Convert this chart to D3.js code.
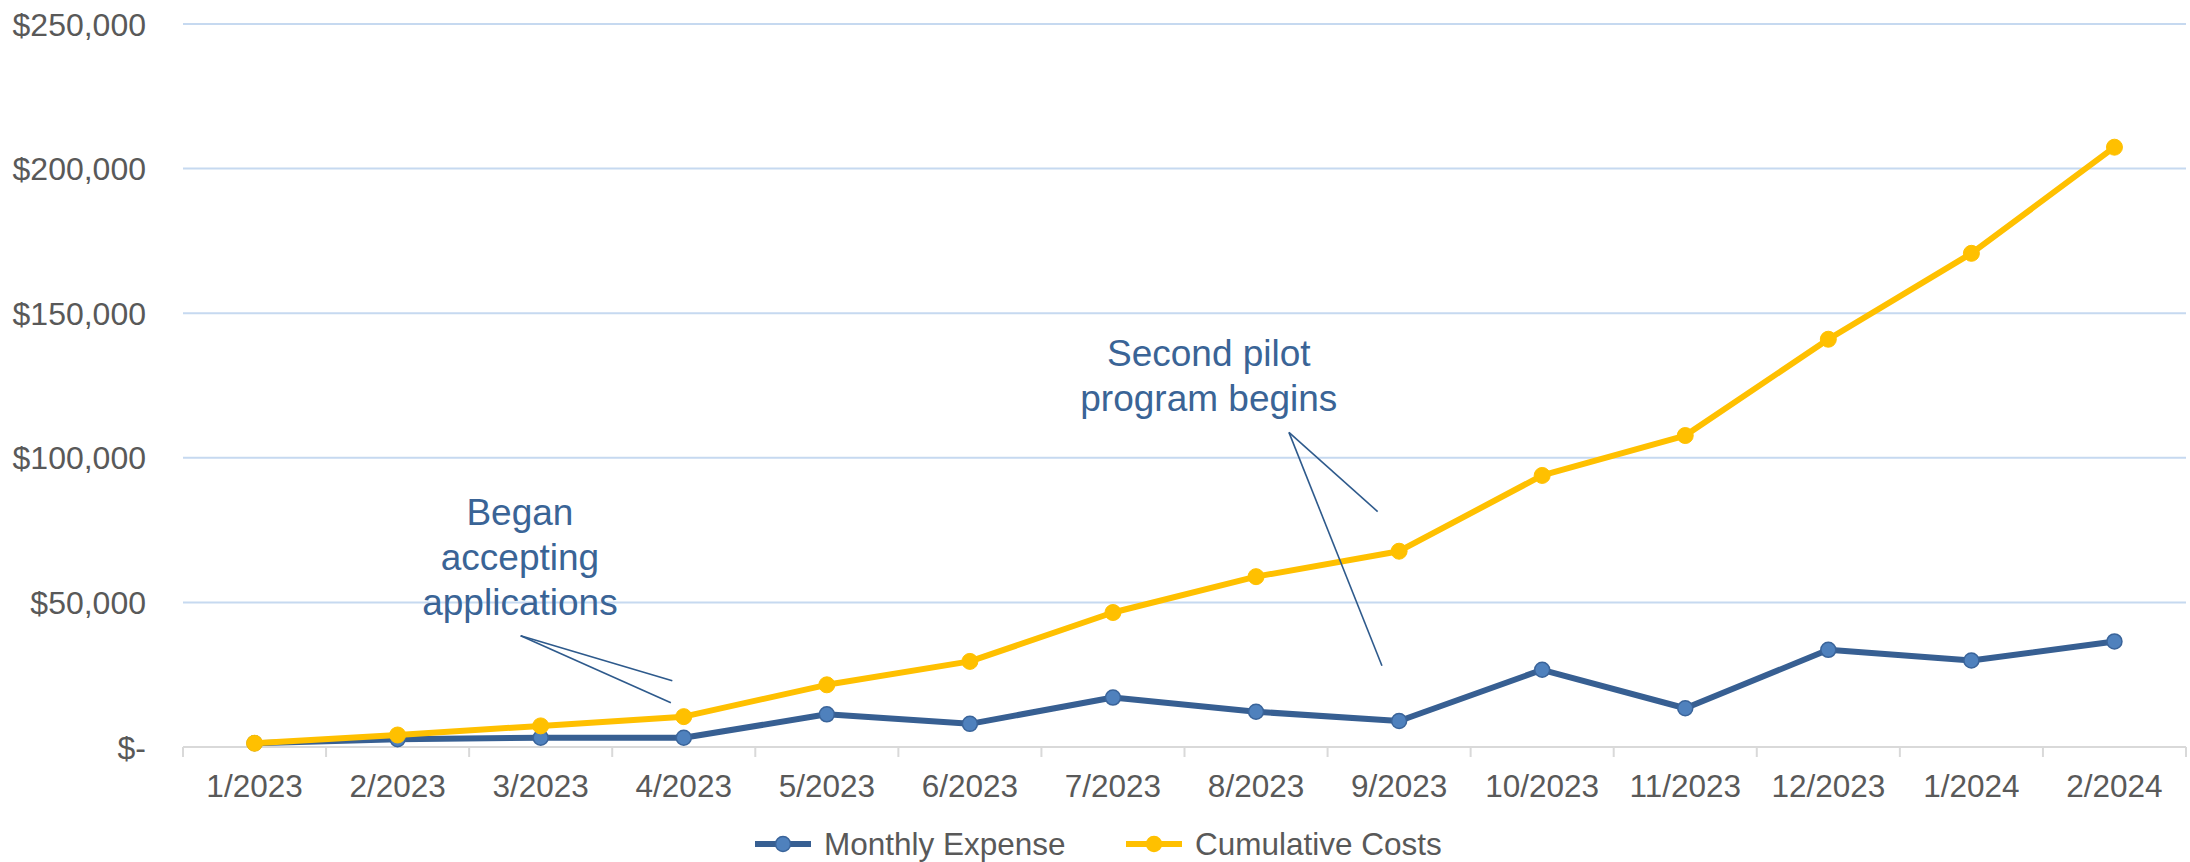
<!DOCTYPE html>
<html>
<head>
<meta charset="utf-8">
<script src="https://cdn.jsdelivr.net/npm/d3@7"></script>
<style>
  html, body { margin: 0; padding: 0; background: #fff; }
  svg { display: block; }
  text { font-family: "Liberation Sans", Arial, sans-serif; }
</style>
</head>
<body>
<svg id="chart" width="2190" height="862"></svg>
<script>
const categories = ["1/2023","2/2023","3/2023","4/2023","5/2023","6/2023","7/2023","8/2023","9/2023","10/2023","11/2023","12/2023","1/2024","2/2024"];
const monthlyExpense = [1300, 2700, 3200, 3200, 11300, 8000, 17100, 12200, 9000, 26700, 13400, 33600, 29900, 36500];
const cumulativeCosts = [1300, 4150, 7300, 10500, 21500, 29600, 46500, 58900, 67700, 93900, 107700, 141000, 170700, 207400];
const yTicks = [0, 50000, 100000, 150000, 200000, 250000];
const seriesNames = ["Monthly Expense", "Cumulative Costs"];
const annotations = [
  { lines: ["Began", "accepting", "applications"], textAt: [1.855, 76600], from: [1.86, 38500], to: [[2.92, 22900], [2.91, 15300]] },
  { lines: ["Second pilot", "program begins"], textAt: [6.67, 131800], from: [7.23, 108800], to: [[7.85, 81400], [7.88, 28100]] }
];

(function () {
const svg = d3.select("#chart");
const mLeft = 183, mRight = 2186, mTop = 24, mBottom = 747;

const x = d3.scaleBand().domain(categories).range([mLeft, mRight]).paddingInner(0).paddingOuter(0);
const xc = c => x(c) + x.bandwidth() / 2;
const xi = d3.scaleLinear().domain([0, categories.length - 1]).range([xc(categories[0]), xc(categories[categories.length - 1])]);
const y = d3.scaleLinear().domain([0, 250000]).range([mBottom, mTop]);

const fmt = v => v === 0 ? "$-" : "$" + d3.format(",")(v);

// gridlines
svg.append("g").selectAll("line").data(yTicks.filter(t => t > 0)).join("line")
  .attr("x1", mLeft).attr("x2", mRight)
  .attr("y1", d => y(d)).attr("y2", d => y(d))
  .attr("stroke", "#c6d9f0").attr("stroke-width", 2);

// y labels
svg.append("g").selectAll("text").data(yTicks).join("text")
  .attr("x", 146).attr("y", d => y(d)).attr("dy", "0.36em")
  .attr("text-anchor", "end")
  .attr("font-size", 32).attr("fill", "#595959")
  .text(fmt);

// x axis
const xAxis = d3.axisBottom(x).tickSize(0).tickPadding(0);
const gx = svg.append("g").attr("transform", `translate(0,${mBottom})`).call(xAxis);
gx.select(".domain").remove();
gx.selectAll("text").attr("font-size", 31.5).attr("fill", "#595959")
  .attr("font-family", "Liberation Sans, Arial, sans-serif")
  .attr("dy", null).attr("y", 50);
svg.append("line").attr("x1", mLeft).attr("x2", mRight).attr("y1", mBottom).attr("y2", mBottom)
  .attr("stroke", "#d9d9d9").attr("stroke-width", 2);
const bounds = categories.map(c => x(c)).concat([mRight]);
svg.append("g").selectAll("line").data(bounds).join("line")
  .attr("x1", d => d).attr("x2", d => d).attr("y1", mBottom).attr("y2", mBottom + 10)
  .attr("stroke", "#d9d9d9").attr("stroke-width", 2);

// lines
const line = d3.line().x((d, i) => xc(categories[i])).y(d => y(d));
svg.append("path").datum(monthlyExpense).attr("d", line)
  .attr("fill", "none").attr("stroke", "#375f92").attr("stroke-width", 6).attr("stroke-linejoin", "round");
svg.append("g").selectAll("circle").data(monthlyExpense).join("circle")
  .attr("cx", (d, i) => xc(categories[i])).attr("cy", d => y(d)).attr("r", 7.5)
  .attr("fill", "#4f81bd").attr("stroke", "#3a649a").attr("stroke-width", 1.5);

svg.append("path").datum(cumulativeCosts).attr("d", line)
  .attr("fill", "none").attr("stroke", "#ffc000").attr("stroke-width", 6).attr("stroke-linejoin", "round");
svg.append("g").selectAll("circle").data(cumulativeCosts).join("circle")
  .attr("cx", (d, i) => xc(categories[i])).attr("cy", d => y(d)).attr("r", 8)
  .attr("fill", "#ffc000").attr("stroke", "#ffc000").attr("stroke-width", 1);

// annotations
annotations.forEach(a => {
  const t = svg.append("text")
    .attr("x", xi(a.textAt[0])).attr("y", y(a.textAt[1]))
    .attr("text-anchor", "middle").attr("font-size", 37).attr("fill", "#3a6496");
  a.lines.forEach((l, k) => {
    t.append("tspan").attr("x", xi(a.textAt[0])).attr("dy", k === 0 ? 0 : 45).text(l);
  });
  a.to.forEach(p => {
    svg.append("line")
      .attr("x1", xi(a.from[0])).attr("y1", y(a.from[1]))
      .attr("x2", xi(p[0])).attr("y2", y(p[1]))
      .attr("stroke", "#2e5a8c").attr("stroke-width", 1.6);
  });
});

// legend
const legendItems = [
  { name: seriesNames[0], x1: 755, stroke: "#375f92", fill: "#4f81bd", mstroke: "#3a649a" },
  { name: seriesNames[1], x1: 1126, stroke: "#ffc000", fill: "#ffc000", mstroke: "#ffc000" }
];
const ly = 844;
const lg = svg.append("g");
legendItems.forEach(it => {
  lg.append("line").attr("x1", it.x1).attr("x2", it.x1 + 56).attr("y1", ly).attr("y2", ly)
    .attr("stroke", it.stroke).attr("stroke-width", 6);
  lg.append("circle").attr("cx", it.x1 + 28).attr("cy", ly).attr("r", 7.5)
    .attr("fill", it.fill).attr("stroke", it.mstroke).attr("stroke-width", 1.5);
  lg.append("text").attr("x", it.x1 + 69).attr("y", ly).attr("dy", "0.36em")
    .attr("font-size", 31.5).attr("fill", "#595959").text(it.name);
});
})();
</script>
</body>
</html>
